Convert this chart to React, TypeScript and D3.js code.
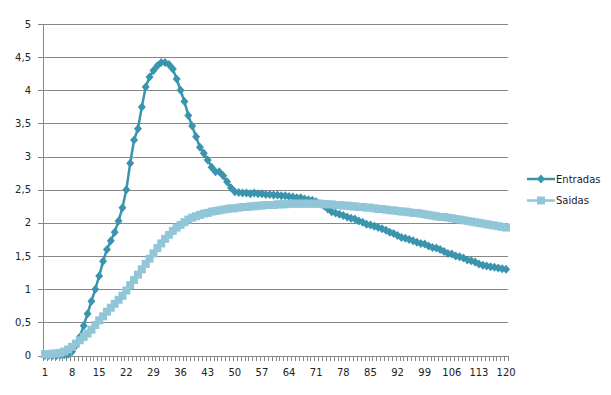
import React from "react";
import * as d3 from "d3";

const categories: number[] = d3.range(1, 121);

const entradas: number[] = [
  0.0, 0.0, 0.0, 0.0, 0.01, 0.01, 0.02, 0.06, 0.15, 0.28,
  0.45, 0.63, 0.82, 1.0, 1.2, 1.42, 1.6, 1.73, 1.86, 2.03,
  2.23, 2.5, 2.9, 3.25, 3.42, 3.75, 4.05, 4.2, 4.3, 4.37,
  4.42, 4.42, 4.39, 4.32, 4.17, 4.0, 3.83, 3.62, 3.46, 3.3,
  3.14, 3.05, 2.95, 2.84, 2.77, 2.77, 2.71, 2.62, 2.53, 2.47,
  2.46, 2.45, 2.45, 2.44, 2.45, 2.44, 2.44, 2.43, 2.43, 2.42,
  2.42, 2.41, 2.41, 2.4, 2.39, 2.38, 2.38, 2.36, 2.35, 2.34,
  2.32, 2.29, 2.26, 2.21, 2.17, 2.15, 2.13, 2.11, 2.09, 2.07,
  2.06, 2.03, 2.01, 1.98, 1.97, 1.95, 1.93, 1.91, 1.89, 1.86,
  1.84, 1.81, 1.78, 1.77, 1.75, 1.73, 1.71, 1.69, 1.68, 1.65,
  1.63, 1.62, 1.6, 1.57, 1.54, 1.53, 1.5, 1.49, 1.47, 1.44,
  1.43, 1.41, 1.38, 1.36, 1.35, 1.34, 1.33, 1.32, 1.31, 1.3,
];

const saidas: number[] = [
  0.02, 0.02, 0.03, 0.03, 0.04, 0.06, 0.09, 0.13, 0.18, 0.23,
  0.28, 0.33, 0.39, 0.46, 0.53, 0.59, 0.66, 0.72, 0.78, 0.84,
  0.9, 0.98, 1.06, 1.14, 1.22, 1.3, 1.38, 1.46, 1.54, 1.62,
  1.69, 1.76, 1.82, 1.88, 1.93, 1.97, 2.01, 2.05, 2.08, 2.1,
  2.12, 2.14, 2.15, 2.17, 2.18, 2.19, 2.2, 2.21, 2.22, 2.22,
  2.23, 2.24, 2.24, 2.25, 2.25, 2.26, 2.26, 2.27, 2.27, 2.27,
  2.28, 2.28, 2.28, 2.29, 2.29, 2.29, 2.29, 2.29, 2.29, 2.29,
  2.29, 2.29, 2.28, 2.28, 2.28, 2.27, 2.27, 2.26, 2.26, 2.25,
  2.25, 2.24, 2.24, 2.23, 2.23, 2.22, 2.21, 2.21, 2.2, 2.19,
  2.19, 2.18, 2.17, 2.17, 2.16, 2.15, 2.15, 2.14, 2.13, 2.12,
  2.11, 2.1, 2.09, 2.09, 2.08, 2.07, 2.06, 2.05, 2.04, 2.03,
  2.02, 2.01, 2.0, 1.99, 1.98, 1.97, 1.96, 1.95, 1.94, 1.93,
];

const yTicks: number[] = [0, 0.5, 1, 1.5, 2, 2.5, 3, 3.5, 4, 4.5, 5];
const xTickLabels: number[] = categories.filter((c) => (c - 1) % 7 === 0);
const seriesNames: string[] = ["Entradas", "Saidas"];
const seriesColors: string[] = ["#3A94AD", "#91C5D8"];

const W = 611;
const H = 395;
const left = 43;
const right = 508;
const top = 24;
const bottom = 355.5;
const font = "'DejaVu Sans', Verdana, sans-serif";
const gridColor = "#878787";

export default function App() {
  const x = d3.scaleBand<number>().domain(categories).range([left, right]).paddingInner(0).paddingOuter(0);
  const y = d3.scaleLinear().domain([0, 5]).range([bottom, top]);
  const cx = (c: number) => (x(c) as number) + x.bandwidth() / 2;
  const fmt = (v: number) => String(v).replace(".", ",");

  const line = d3
    .line<number>()
    .x((_, i) => cx(categories[i]))
    .y((v) => y(v));

  const diamond = "M0,-4.5L4,0L0,4.5L-4,0Z";

  return (
    <svg
      width={W}
      height={H}
      style={{ position: "absolute", left: 0, top: 0, background: "#fff" }}
      fontFamily={font}
    >
      <rect x={0} y={0} width={W} height={H} fill="#fff" />
      {/* gridlines */}
      {yTicks.map((t) => (
        <line
          key={"g" + t}
          x1={left - 5}
          x2={right}
          y1={Math.round(y(t)) + 0.5}
          y2={Math.round(y(t)) + 0.5}
          stroke={gridColor}
          strokeWidth={1}
        />
      ))}
      {/* y axis */}
      <line x1={left + 0.5} x2={left + 0.5} y1={top} y2={bottom + 0.5} stroke={gridColor} strokeWidth={1} />
      {/* x ticks at category boundaries */}
      {categories.concat([121]).map((c, i) => {
        const xp = Math.round(left + i * x.step()) + 0.5;
        return <line key={"xt" + c} x1={xp} x2={xp} y1={Math.round(bottom)} y2={Math.round(bottom) + 5} stroke={gridColor} strokeWidth={1} />;
      })}
      {/* y labels */}
      {yTicks.map((t) => (
        <text key={"yl" + t} x={31} y={y(t)} dy="0.35em" textAnchor="end" fontSize={10} fill="#222">
          {fmt(t)}
        </text>
      ))}
      {/* x labels */}
      {xTickLabels.map((c) => (
        <text key={"xl" + c} x={cx(c)} y={372} dy="0.35em" textAnchor="middle" fontSize={10} fill="#222">
          {c}
        </text>
      ))}
      {/* Entradas */}
      <path d={line(entradas) || ""} fill="none" stroke={seriesColors[0]} strokeWidth={2.5} strokeLinejoin="round" />
      {entradas.map((v, i) => (
        <path key={"e" + i} d={diamond} transform={`translate(${cx(categories[i])},${y(v)})`} fill={seriesColors[0]} />
      ))}
      {/* Saidas */}
      <path d={line(saidas) || ""} fill="none" stroke={seriesColors[1]} strokeWidth={2.5} strokeLinejoin="round" />
      {saidas.map((v, i) => (
        <rect key={"s" + i} x={cx(categories[i]) - 4} y={y(v) - 4} width={8} height={8} fill={seriesColors[1]} />
      ))}
      {/* legend */}
      {seriesNames.map((name, i) => {
        const ly = 179 + i * 21.5;
        return (
          <g key={"lg" + name}>
            <line x1={527} x2={555} y1={ly} y2={ly} stroke={seriesColors[i]} strokeWidth={2.5} />
            {i === 0 ? (
              <path d={diamond} transform={`translate(541,${ly})`} fill={seriesColors[i]} />
            ) : (
              <rect x={537} y={ly - 4} width={8} height={8} fill={seriesColors[i]} />
            )}
            <text x={556} y={ly} dy="0.35em" fontSize={10} fill="#222">
              {name}
            </text>
          </g>
        );
      })}
    </svg>
  );
}
